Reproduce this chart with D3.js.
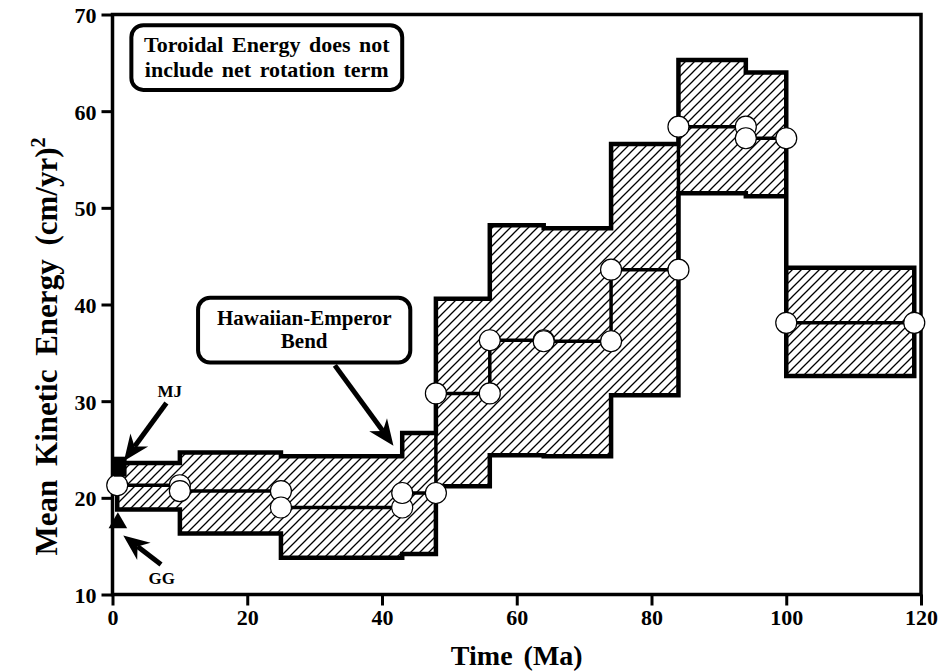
<!DOCTYPE html>
<html>
<head>
<meta charset="utf-8">
<script src="https://cdn.jsdelivr.net/npm/d3@7"></script>
<style>
  html, body { margin: 0; padding: 0; background: #fff; }
  svg { display: block; }
  text { font-family: "Liberation Serif", "Times New Roman", serif; font-weight: bold; fill: #000; }
</style>
</head>
<body>
<svg id="chart" width="940" height="672"></svg>
<script>
// ---- data ----
// segment boundaries (Ma)
const segTimes = [0.7, 10, 25, 43, 48, 56, 64, 74, 84, 94, 100, 119];
// mean kinetic energy for each interval
const meanEnergy = [21.3, 20.7, 19.0, 20.5, 30.8, 36.3, 36.2, 43.6, 58.4, 57.2, 38.1];
// upper and lower bounds of the uncertainty envelope for each interval
const upperEnergy = [23.6, 24.7, 24.3, 26.7, 40.6, 48.2, 47.9, 56.6, 65.3, 64.0, 43.8];
const lowerEnergy = [18.8, 16.3, 13.8, 14.2, 21.2, 24.4, 24.3, 30.6, 51.5, 51.2, 32.6];
// axis ticks
const xTicks = [0, 20, 40, 60, 80, 100, 120];
const yTicks = [10, 20, 30, 40, 50, 60, 70];
// present-day reference markers
const mjMarker = [1.2, 22.6];
const ggMarker = [0.8, 17.4];
// annotation text
const noteLines = ["Toroidal Energy does not", "include net rotation term"];
const bendLines = ["Hawaiian-Emperor", "Bend"];
const markerLabels = [{ text: "MJ", t: 8.5, v: 30.4 }, { text: "GG", t: 7.3, v: 11.1 }];
// arrows (data coordinates: from -> to)
const arrowsData = [
  { from: [8.0, 29.8], to: [1.7, 23.8] },
  { from: [7.2, 13.1], to: [1.6, 16.1] },
  { from: [33.0, 33.7], to: [41.7, 25.4] }
];
// annotation boxes (data coordinates)
const noteBox = { t0: 2.8, t1: 43.0, v0: 62.2, v1: 68.9 };
const bendBox = { t0: 12.7, t1: 44.2, v0: 34.0, v1: 40.7 };

// ---- scales ----
const svg = d3.select("#chart");
const x = d3.scaleLinear().domain([0, 120]).range([112.5, 921]);
const y = d3.scaleLinear().domain([10, 70]).range([594.5, 14.5]);

// hatch pattern
const defs = svg.append("defs");
defs.append("pattern")
  .attr("id", "hatch")
  .attr("patternUnits", "userSpaceOnUse")
  .attr("width", 9).attr("height", 9)
  .append("path")
  .attr("d", "M-2,2 L2,-2 M0,9 L9,0 M7,11 L11,7")
  .attr("stroke", "#000").attr("stroke-width", 1.3).attr("fill", "none");

// ---- envelope ----
const env = segTimes.slice(0, -1).map((t, i) => ({ t, u: upperEnergy[i], l: lowerEnergy[i] }));
env.push({ t: segTimes[segTimes.length - 1], u: upperEnergy[upperEnergy.length - 1], l: lowerEnergy[lowerEnergy.length - 1] });

const area = d3.area()
  .x(d => x(d.t)).y0(d => y(d.l)).y1(d => y(d.u))
  .curve(d3.curveStepAfter);

svg.append("path")
  .datum(env)
  .attr("d", area)
  .attr("fill", "url(#hatch)")
  .attr("stroke", "#000")
  .attr("stroke-width", 4.5)
  .attr("stroke-linejoin", "miter");

// ---- mean line ----
const meanPts = segTimes.slice(0, -1).map((t, i) => ({ t, v: meanEnergy[i] }));
meanPts.push({ t: segTimes[segTimes.length - 1], v: meanEnergy[meanEnergy.length - 1] });
svg.append("path")
  .datum(meanPts)
  .attr("d", d3.line().x(d => x(d.t)).y(d => y(d.v)).curve(d3.curveStepAfter))
  .attr("fill", "none")
  .attr("stroke", "#000")
  .attr("stroke-width", 3.5);

// ---- frame & axes ----
svg.append("rect")
  .attr("x", x(0)).attr("y", y(70))
  .attr("width", x(120) - x(0)).attr("height", y(10) - y(70))
  .attr("fill", "none").attr("stroke", "#000").attr("stroke-width", 3.5);

const gx = svg.append("g")
  .attr("transform", `translate(0,${y(10)})`)
  .call(d3.axisBottom(x).tickValues(xTicks).tickSize(11).tickPadding(4).tickSizeOuter(0));
const gy = svg.append("g")
  .attr("transform", `translate(${x(0)},0)`)
  .call(d3.axisLeft(y).tickValues(yTicks).tickSize(11).tickPadding(5).tickSizeOuter(0));
[gx, gy].forEach(g => {
  g.select(".domain").remove();
  g.selectAll(".tick line").attr("stroke", "#000").attr("stroke-width", 3);
  g.selectAll(".tick text")
    .attr("fill", "#000")
    .style("font-family", '"Liberation Serif", serif')
    .style("font-weight", "bold")
    .style("font-size", "22px");
});
gy.selectAll(".tick text").attr("dy", "0.36em");

// axis titles
svg.append("text")
  .attr("x", (x(0) + x(120)) / 2).attr("y", 665)
  .attr("text-anchor", "middle")
  .style("font-size", "28px").style("word-spacing", "4px")
  .text("Time (Ma)");

const yt = svg.append("text")
  .attr("transform", `translate(57,${(y(10) + y(70)) / 2 + 42}) rotate(-90)`)
  .attr("text-anchor", "middle")
  .style("font-size", "31px").style("word-spacing", "6px");
yt.append("tspan").text("Mean Kinetic Energy (cm/yr)");
yt.append("tspan").attr("dy", "-12").style("font-size", "20px").text("2");

// ---- circles ----
const circ = [];
segTimes.slice(0, -1).forEach((t, i) => {
  circ.push({ t, v: meanEnergy[i] });
  circ.push({ t: segTimes[i + 1], v: meanEnergy[i] });
});
svg.append("g").selectAll("circle")
  .data(circ).join("circle")
  .attr("cx", d => x(d.t)).attr("cy", d => y(d.v))
  .attr("r", 10.5)
  .attr("fill", "#fff").attr("stroke", "#000").attr("stroke-width", 1.2);

// ---- markers ----
svg.append("rect")
  .attr("x", x(mjMarker[0]) - 7).attr("y", y(mjMarker[1]) - 16)
  .attr("width", 13).attr("height", 20)
  .attr("fill", "#000");
svg.append("path")
  .attr("transform", `translate(${x(ggMarker[0])},${y(ggMarker[1])})`)
  .attr("d", d3.symbol(d3.symbolTriangle, 150)())
  .attr("fill", "#000");

// ---- arrows ----
function drawArrow(a) {
  const x0 = x(a.from[0]), y0 = y(a.from[1]);
  const x1 = x(a.to[0]), y1 = y(a.to[1]);
  const dx = x1 - x0, dy = y1 - y0, len = Math.hypot(dx, dy);
  const ux = dx / len, uy = dy / len, nx = -uy, ny = ux;
  const L = 26, Wd = 11, notch = 8;
  const bx = x1 - L * ux, by = y1 - L * uy;
  const mx = x1 - (L - notch) * ux, my = y1 - (L - notch) * uy;
  svg.append("line")
    .attr("x1", x0).attr("y1", y0).attr("x2", mx).attr("y2", my)
    .attr("stroke", "#000").attr("stroke-width", 5);
  svg.append("path")
    .attr("d", `M${x1},${y1}L${bx + Wd * nx},${by + Wd * ny}L${mx},${my}L${bx - Wd * nx},${by - Wd * ny}Z`)
    .attr("fill", "#000");
}
arrowsData.forEach(drawArrow);

// ---- marker labels ----
svg.append("g").selectAll("text")
  .data(markerLabels).join("text")
  .attr("x", d => x(d.t)).attr("y", d => y(d.v))
  .attr("text-anchor", "middle")
  .style("font-size", "17px")
  .text(d => d.text);

// ---- annotation boxes ----
function drawBox(b, lines, base, step, fs) {
  svg.append("rect")
    .attr("x", x(b.t0)).attr("y", y(b.v1))
    .attr("width", x(b.t1) - x(b.t0)).attr("height", y(b.v0) - y(b.v1))
    .attr("rx", 12).attr("ry", 12)
    .attr("fill", "#fff").attr("stroke", "#000").attr("stroke-width", 4);
  const cx = (x(b.t0) + x(b.t1)) / 2;
  svg.append("g").selectAll("text")
    .data(lines).join("text")
    .attr("x", cx)
    .attr("y", (d, i) => y(b.v1) + base + i * step)
    .attr("text-anchor", "middle")
    .style("font-size", fs + "px").style("word-spacing", "3px")
    .text(d => d);
}
drawBox(noteBox, noteLines, 27, 24.5, 22);
drawBox(bendBox, bendLines, 27, 23.5, 21);
</script>
</body>
</html>
